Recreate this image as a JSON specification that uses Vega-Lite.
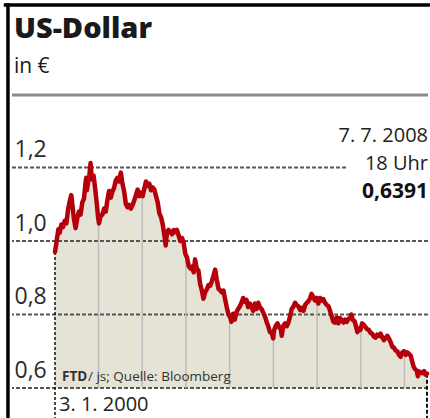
{
  "$schema": "https://vega.github.io/schema/vega-lite/v6.json",
  "width": 416,
  "height": 323,
  "autosize": {"type": "none"},
  "padding": {"left": 12, "right": 2, "top": 95, "bottom": 0},
  "background": "white",
  "data": {"values": [{}]},
  "datasets": {
    "fx": [
      {"date": "2000-01-03", "usd": 0.970}, {"date": "2000-01-10", "usd": 0.985}, {"date": "2000-01-21", "usd": 1.010}, {"date": "2000-01-31", "usd": 1.032},
      {"date": "2000-02-11", "usd": 1.022}, {"date": "2000-02-25", "usd": 1.045}, {"date": "2000-03-10", "usd": 1.038}, {"date": "2000-03-24", "usd": 1.055},
      {"date": "2000-04-07", "usd": 1.048}, {"date": "2000-04-21", "usd": 1.085}, {"date": "2000-05-05", "usd": 1.108}, {"date": "2000-05-18", "usd": 1.125},
      {"date": "2000-05-31", "usd": 1.088}, {"date": "2000-06-09", "usd": 1.060}, {"date": "2000-06-23", "usd": 1.035}, {"date": "2000-07-07", "usd": 1.062},
      {"date": "2000-07-21", "usd": 1.080}, {"date": "2000-08-04", "usd": 1.072}, {"date": "2000-08-18", "usd": 1.105}, {"date": "2000-09-01", "usd": 1.115},
      {"date": "2000-09-12", "usd": 1.152}, {"date": "2000-09-20", "usd": 1.172}, {"date": "2000-09-25", "usd": 1.138}, {"date": "2000-10-06", "usd": 1.160},
      {"date": "2000-10-16", "usd": 1.178}, {"date": "2000-10-26", "usd": 1.212}, {"date": "2000-11-06", "usd": 1.168}, {"date": "2000-11-20", "usd": 1.178},
      {"date": "2000-12-01", "usd": 1.150}, {"date": "2000-12-15", "usd": 1.108}, {"date": "2000-12-29", "usd": 1.062},
      {"date": "2001-01-05", "usd": 1.048}, {"date": "2001-01-19", "usd": 1.068}, {"date": "2001-02-02", "usd": 1.072}, {"date": "2001-02-16", "usd": 1.088},
      {"date": "2001-03-02", "usd": 1.080}, {"date": "2001-03-16", "usd": 1.112}, {"date": "2001-03-30", "usd": 1.136}, {"date": "2001-04-13", "usd": 1.118},
      {"date": "2001-04-27", "usd": 1.135}, {"date": "2001-05-11", "usd": 1.145}, {"date": "2001-05-25", "usd": 1.165}, {"date": "2001-06-08", "usd": 1.172},
      {"date": "2001-06-22", "usd": 1.162}, {"date": "2001-07-06", "usd": 1.186}, {"date": "2001-07-20", "usd": 1.155}, {"date": "2001-08-03", "usd": 1.135},
      {"date": "2001-08-17", "usd": 1.100}, {"date": "2001-08-31", "usd": 1.092}, {"date": "2001-09-14", "usd": 1.098}, {"date": "2001-09-28", "usd": 1.088},
      {"date": "2001-10-12", "usd": 1.098}, {"date": "2001-10-26", "usd": 1.110}, {"date": "2001-11-09", "usd": 1.125}, {"date": "2001-11-23", "usd": 1.140},
      {"date": "2001-12-07", "usd": 1.122}, {"date": "2001-12-21", "usd": 1.132},
      {"date": "2002-01-04", "usd": 1.122}, {"date": "2002-01-18", "usd": 1.142}, {"date": "2002-02-01", "usd": 1.162}, {"date": "2002-02-15", "usd": 1.150},
      {"date": "2002-03-01", "usd": 1.156}, {"date": "2002-03-15", "usd": 1.138}, {"date": "2002-03-29", "usd": 1.146}, {"date": "2002-04-12", "usd": 1.140},
      {"date": "2002-04-26", "usd": 1.122}, {"date": "2002-05-10", "usd": 1.105}, {"date": "2002-05-24", "usd": 1.075}, {"date": "2002-06-07", "usd": 1.065},
      {"date": "2002-06-21", "usd": 1.045}, {"date": "2002-07-05", "usd": 1.015}, {"date": "2002-07-16", "usd": 0.988}, {"date": "2002-07-26", "usd": 1.022},
      {"date": "2002-08-09", "usd": 1.030}, {"date": "2002-08-23", "usd": 1.025}, {"date": "2002-09-06", "usd": 1.018}, {"date": "2002-09-20", "usd": 1.030},
      {"date": "2002-10-04", "usd": 1.024}, {"date": "2002-10-18", "usd": 1.030}, {"date": "2002-11-01", "usd": 1.015}, {"date": "2002-11-15", "usd": 1.000},
      {"date": "2002-11-29", "usd": 1.008}, {"date": "2002-12-13", "usd": 0.995}, {"date": "2002-12-27", "usd": 0.965},
      {"date": "2003-01-10", "usd": 0.955}, {"date": "2003-01-24", "usd": 0.932}, {"date": "2003-02-07", "usd": 0.925}, {"date": "2003-02-21", "usd": 0.930},
      {"date": "2003-03-07", "usd": 0.915}, {"date": "2003-03-18", "usd": 0.950}, {"date": "2003-04-01", "usd": 0.925}, {"date": "2003-04-15", "usd": 0.920},
      {"date": "2003-04-30", "usd": 0.882}, {"date": "2003-05-14", "usd": 0.866}, {"date": "2003-05-27", "usd": 0.843}, {"date": "2003-06-10", "usd": 0.860},
      {"date": "2003-06-24", "usd": 0.868}, {"date": "2003-07-08", "usd": 0.880}, {"date": "2003-07-22", "usd": 0.878}, {"date": "2003-08-05", "usd": 0.890},
      {"date": "2003-08-19", "usd": 0.905}, {"date": "2003-09-02", "usd": 0.922}, {"date": "2003-09-16", "usd": 0.894}, {"date": "2003-09-30", "usd": 0.870},
      {"date": "2003-10-14", "usd": 0.866}, {"date": "2003-10-28", "usd": 0.860}, {"date": "2003-11-11", "usd": 0.865}, {"date": "2003-11-25", "usd": 0.840},
      {"date": "2003-12-09", "usd": 0.818}, {"date": "2003-12-23", "usd": 0.800},
      {"date": "2004-01-06", "usd": 0.792}, {"date": "2004-01-16", "usd": 0.780}, {"date": "2004-01-30", "usd": 0.802}, {"date": "2004-02-13", "usd": 0.786},
      {"date": "2004-02-27", "usd": 0.806}, {"date": "2004-03-12", "usd": 0.815}, {"date": "2004-03-26", "usd": 0.822}, {"date": "2004-04-09", "usd": 0.832},
      {"date": "2004-04-23", "usd": 0.845}, {"date": "2004-05-07", "usd": 0.835}, {"date": "2004-05-21", "usd": 0.840}, {"date": "2004-06-04", "usd": 0.820},
      {"date": "2004-06-18", "usd": 0.830}, {"date": "2004-07-02", "usd": 0.820}, {"date": "2004-07-16", "usd": 0.810}, {"date": "2004-07-30", "usd": 0.830},
      {"date": "2004-08-13", "usd": 0.815}, {"date": "2004-08-27", "usd": 0.832}, {"date": "2004-09-10", "usd": 0.820}, {"date": "2004-09-24", "usd": 0.815},
      {"date": "2004-10-08", "usd": 0.805}, {"date": "2004-10-22", "usd": 0.795}, {"date": "2004-11-05", "usd": 0.780}, {"date": "2004-11-19", "usd": 0.768},
      {"date": "2004-12-03", "usd": 0.752}, {"date": "2004-12-17", "usd": 0.750}, {"date": "2004-12-30", "usd": 0.735},
      {"date": "2005-01-07", "usd": 0.758}, {"date": "2005-01-21", "usd": 0.770}, {"date": "2005-02-04", "usd": 0.776}, {"date": "2005-02-18", "usd": 0.765},
      {"date": "2005-03-04", "usd": 0.760}, {"date": "2005-03-11", "usd": 0.742}, {"date": "2005-03-25", "usd": 0.770}, {"date": "2005-04-08", "usd": 0.776},
      {"date": "2005-04-22", "usd": 0.768}, {"date": "2005-05-06", "usd": 0.778}, {"date": "2005-05-20", "usd": 0.795}, {"date": "2005-06-03", "usd": 0.815},
      {"date": "2005-06-17", "usd": 0.822}, {"date": "2005-07-01", "usd": 0.832}, {"date": "2005-07-15", "usd": 0.825}, {"date": "2005-07-29", "usd": 0.822},
      {"date": "2005-08-12", "usd": 0.812}, {"date": "2005-08-26", "usd": 0.818}, {"date": "2005-09-09", "usd": 0.810}, {"date": "2005-09-23", "usd": 0.826},
      {"date": "2005-10-07", "usd": 0.832}, {"date": "2005-10-21", "usd": 0.836}, {"date": "2005-11-04", "usd": 0.845}, {"date": "2005-11-15", "usd": 0.856},
      {"date": "2005-11-30", "usd": 0.848}, {"date": "2005-12-14", "usd": 0.838}, {"date": "2005-12-28", "usd": 0.845},
      {"date": "2006-01-11", "usd": 0.830}, {"date": "2006-01-25", "usd": 0.845}, {"date": "2006-02-08", "usd": 0.838}, {"date": "2006-02-22", "usd": 0.842},
      {"date": "2006-03-08", "usd": 0.832}, {"date": "2006-03-22", "usd": 0.826}, {"date": "2006-04-05", "usd": 0.823}, {"date": "2006-04-19", "usd": 0.810},
      {"date": "2006-05-03", "usd": 0.795}, {"date": "2006-05-17", "usd": 0.780}, {"date": "2006-05-31", "usd": 0.778}, {"date": "2006-06-14", "usd": 0.792},
      {"date": "2006-06-28", "usd": 0.776}, {"date": "2006-07-12", "usd": 0.790}, {"date": "2006-07-26", "usd": 0.785}, {"date": "2006-08-09", "usd": 0.778},
      {"date": "2006-08-23", "usd": 0.786}, {"date": "2006-09-06", "usd": 0.780}, {"date": "2006-09-20", "usd": 0.788}, {"date": "2006-10-04", "usd": 0.790},
      {"date": "2006-10-13", "usd": 0.800}, {"date": "2006-10-27", "usd": 0.785}, {"date": "2006-11-10", "usd": 0.782}, {"date": "2006-11-24", "usd": 0.765},
      {"date": "2006-12-04", "usd": 0.752}, {"date": "2006-12-18", "usd": 0.762}, {"date": "2006-12-29", "usd": 0.758},
      {"date": "2007-01-12", "usd": 0.776}, {"date": "2007-01-26", "usd": 0.772}, {"date": "2007-02-09", "usd": 0.766}, {"date": "2007-02-23", "usd": 0.760},
      {"date": "2007-03-09", "usd": 0.758}, {"date": "2007-03-23", "usd": 0.750}, {"date": "2007-04-06", "usd": 0.748}, {"date": "2007-04-20", "usd": 0.740},
      {"date": "2007-05-04", "usd": 0.737}, {"date": "2007-05-18", "usd": 0.745}, {"date": "2007-06-01", "usd": 0.742}, {"date": "2007-06-15", "usd": 0.748},
      {"date": "2007-06-29", "usd": 0.738}, {"date": "2007-07-13", "usd": 0.730}, {"date": "2007-07-27", "usd": 0.736}, {"date": "2007-08-10", "usd": 0.742},
      {"date": "2007-08-24", "usd": 0.735}, {"date": "2007-09-07", "usd": 0.725}, {"date": "2007-09-21", "usd": 0.712}, {"date": "2007-10-05", "usd": 0.710},
      {"date": "2007-10-19", "usd": 0.702}, {"date": "2007-11-02", "usd": 0.700}, {"date": "2007-11-16", "usd": 0.690}, {"date": "2007-11-30", "usd": 0.685},
      {"date": "2007-12-14", "usd": 0.697}, {"date": "2007-12-28", "usd": 0.700},
      {"date": "2008-01-11", "usd": 0.690}, {"date": "2008-01-25", "usd": 0.697}, {"date": "2008-02-08", "usd": 0.693}, {"date": "2008-02-22", "usd": 0.688},
      {"date": "2008-03-07", "usd": 0.670}, {"date": "2008-03-17", "usd": 0.658}, {"date": "2008-03-28", "usd": 0.652}, {"date": "2008-04-11", "usd": 0.648},
      {"date": "2008-04-22", "usd": 0.632}, {"date": "2008-05-02", "usd": 0.645}, {"date": "2008-05-16", "usd": 0.642}, {"date": "2008-05-30", "usd": 0.640},
      {"date": "2008-06-13", "usd": 0.646}, {"date": "2008-06-27", "usd": 0.636}, {"date": "2008-07-07", "usd": 0.6391}
    ],
    "grid": [{"v": 0.6}, {"v": 0.8}, {"v": 1.0}],
    "years": [
      {"date": "2001-01-01", "usd": 1.05}, {"date": "2002-01-01", "usd": 1.125}, {"date": "2003-01-01", "usd": 0.96},
      {"date": "2004-01-01", "usd": 0.795}, {"date": "2005-01-01", "usd": 0.745}, {"date": "2006-01-01", "usd": 0.84},
      {"date": "2007-01-01", "usd": 0.765}, {"date": "2008-01-01", "usd": 0.695}
    ]
  },
  "layer": [
    {
      "data": {"name": "fx"},
      "mark": {"type": "area", "color": "#e5e2d6"},
      "encoding": {
        "x": {"field": "date", "type": "temporal", "title": null,
              "scale": {"domain": [{"year": 2000, "month": 1, "date": 3}, {"year": 2008, "month": 7, "date": 7}], "range": [43, 415]}},
        "y": {"field": "usd", "type": "quantitative", "title": null,
              "scale": {"domain": [0.6, 1.2], "range": [293, 72.5], "zero": false, "nice": false},
              "axis": {"values": [0.6, 0.8, 1.0, 1.2], "labelExpr": "replace(format(datum.value, '.1f'), '.', ',')"}},
        "y2": {"datum": 0.6}
      }
    },
    {
      "mark": {"type": "rule", "color": "#8c8c8c", "strokeWidth": 3},
      "encoding": {"y": {"datum": 1.3973}}
    },
    {
      "data": {"name": "grid"},
      "mark": {"type": "rule", "color": "#555555", "strokeWidth": 2, "strokeDash": [4, 2]},
      "encoding": {"y": {"field": "v", "type": "quantitative", "title": null}}
    },
    {
      "mark": {"type": "rule", "color": "#555555", "strokeWidth": 2, "strokeDash": [4, 2]},
      "encoding": {
        "x": {"datum": {"year": 1999, "month": 1, "date": 9}, "type": "temporal"},
        "x2": {"datum": {"year": 2006, "month": 9, "date": 8}},
        "y": {"datum": 1.2}
      }
    },
    {
      "data": {"name": "years"},
      "mark": {"type": "rule", "color": "#bcbcbc", "strokeWidth": 1.5},
      "encoding": {
        "x": {"field": "date", "type": "temporal", "title": null},
        "y": {"field": "usd", "type": "quantitative", "title": null},
        "y2": {"datum": 0.6}
      }
    },
    {
      "mark": {"type": "rule", "color": "#111111", "strokeWidth": 1.5, "strokeDash": [3, 2]},
      "encoding": {
        "x": {"datum": {"year": 2000, "month": 1, "date": 3}, "type": "temporal"},
        "y": {"datum": 0.97},
        "y2": {"datum": 0.518}
      }
    },
    {
      "mark": {"type": "rule", "color": "#111111", "strokeWidth": 2, "strokeDash": [4, 2]},
      "encoding": {
        "x": {"datum": {"year": 2008, "month": 7, "date": 7}, "type": "temporal"},
        "y": {"datum": 0.6391},
        "y2": {"datum": 0.518}
      }
    },
    {
      "data": {"name": "fx"},
      "mark": {"type": "line", "color": "#b5000c", "strokeWidth": 4.5, "strokeJoin": "round", "strokeCap": "round"},
      "encoding": {
        "x": {"field": "date", "type": "temporal", "title": null},
        "y": {"field": "usd", "type": "quantitative", "title": null}
      }
    },
    {
      "mark": {"type": "text", "align": "left", "baseline": "alphabetic", "fontSize": 29, "fontWeight": 800, "color": "#1a1a1a"},
      "encoding": {
        "x": {"datum": {"year": 1999, "month": 1, "date": 25}, "type": "temporal"},
        "y": {"datum": 1.552},
        "text": {"value": "US-Dollar"}
      }
    },
    {
      "mark": {"type": "text", "align": "left", "baseline": "alphabetic", "fontSize": 21, "color": "#1a1a1a"},
      "encoding": {
        "x": {"datum": {"year": 1999, "month": 1, "date": 25}, "type": "temporal"},
        "y": {"datum": 1.458},
        "text": {"value": "in €"}
      }
    },
    {
      "mark": {"type": "text", "align": "right", "baseline": "alphabetic", "fontSize": 20, "color": "#222222", "dx": 1},
      "encoding": {
        "x": {"datum": {"year": 2008, "month": 7, "date": 7}, "type": "temporal"},
        "y": {"datum": 1.270},
        "text": {"value": "7. 7. 2008"}
      }
    },
    {
      "mark": {"type": "text", "align": "right", "baseline": "alphabetic", "fontSize": 20, "color": "#222222", "dx": 1},
      "encoding": {
        "x": {"datum": {"year": 2008, "month": 7, "date": 7}, "type": "temporal"},
        "y": {"datum": 1.192},
        "text": {"value": "18 Uhr"}
      }
    },
    {
      "mark": {"type": "text", "align": "right", "baseline": "alphabetic", "fontSize": 21, "fontWeight": "bold", "color": "#111111", "dx": 1},
      "encoding": {
        "x": {"datum": {"year": 2008, "month": 7, "date": 7}, "type": "temporal"},
        "y": {"datum": 1.118},
        "text": {"value": "0,6391"}
      }
    },
    {
      "mark": {"type": "text", "align": "left", "baseline": "alphabetic", "fontSize": 13.5, "fontWeight": "bold", "color": "#333333", "dx": 7},
      "encoding": {
        "x": {"datum": {"year": 2000, "month": 1, "date": 3}, "type": "temporal"},
        "y": {"datum": 0.619},
        "text": {"value": "FTD"}
      }
    },
    {
      "mark": {"type": "text", "align": "left", "baseline": "alphabetic", "fontSize": 13.5, "color": "#333333", "dx": 33},
      "encoding": {
        "x": {"datum": {"year": 2000, "month": 1, "date": 3}, "type": "temporal"},
        "y": {"datum": 0.619},
        "text": {"value": "/ js; Quelle: Bloomberg"}
      }
    },
    {
      "mark": {"type": "text", "align": "left", "baseline": "alphabetic", "fontSize": 20, "color": "#222222", "dx": 4},
      "encoding": {
        "x": {"datum": {"year": 2000, "month": 1, "date": 3}, "type": "temporal"},
        "y": {"datum": 0.537},
        "text": {"value": "3. 1. 2000"}
      }
    },
    {
      "mark": {"type": "rule", "color": "#000000", "strokeWidth": 3.5},
      "encoding": {
        "x": {"datum": {"year": 1998, "month": 12, "date": 6}, "type": "temporal"},
        "y": {"datum": 1.647},
        "y2": {"datum": 0.45}
      }
    },
    {
      "mark": {"type": "rule", "color": "#000000", "strokeWidth": 3.5},
      "encoding": {
        "x": {"datum": {"year": 1998, "month": 11, "date": 1}, "type": "temporal"},
        "x2": {"datum": {"year": 2009, "month": 1, "date": 1}},
        "y": {"datum": 1.642}
      }
    }
  ],
  "config": {
    "view": {"stroke": null},
    "font": "Open Sans",
    "axisX": {"domain": false, "ticks": false, "labels": false, "grid": false},
    "axisY": {"domain": false, "ticks": false, "tickSize": 0, "grid": false, "labelAlign": "left", "labelBaseline": "alphabetic",
              "labelPadding": -2, "labelOffset": -11, "labelFont": "Open Sans", "labelFontSize": 23, "labelColor": "#2b2b2b"},
    "text": {"font": "Open Sans"}
  }
}
